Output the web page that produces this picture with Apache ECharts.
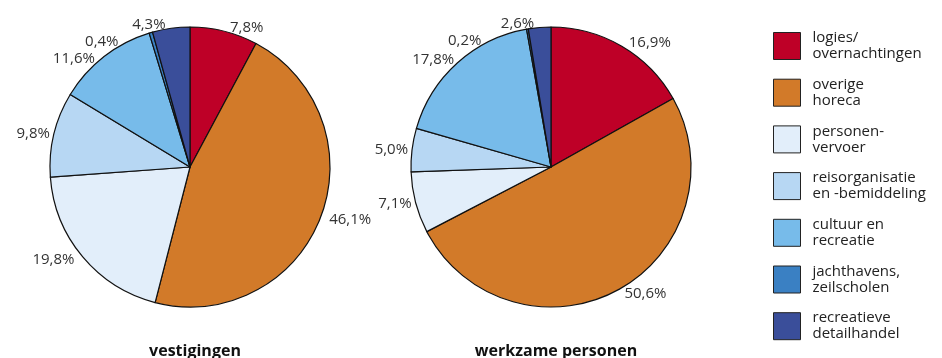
<!DOCTYPE html>
<html>
<head>
<meta charset="utf-8">
<script src="https://cdn.jsdelivr.net/npm/echarts@6/dist/echarts.min.js"></script>
<style>
  html, body { margin: 0; padding: 0; background: #fff; }
  #chart { width: 942px; height: 358px; }
</style>
</head>
<body>
<div id="chart"></div>
<script>
// Sector names (line break used in the legend)
const categories = [
  'logies/\novernachtingen',
  'overige\nhoreca',
  'personen-\nvervoer',
  'reisorganisatie\nen -bemiddeling',
  'cultuur en\nrecreatie',
  'jachthavens,\nzeilscholen',
  'recreatieve\ndetailhandel'
];
// Share per sector, in percent
const vestigingen = [7.8, 46.1, 19.8, 9.8, 11.6, 0.4, 4.3];
const werkzamePersonen = [16.9, 50.6, 7.1, 5.0, 17.8, 0.2, 2.6];
const pieTitles = ['vestigingen', 'werkzame personen'];

const colors = ['#be0027', '#d27a29', '#e2eefa', '#b7d7f3', '#77bbea', '#3a80c3', '#3a4e9a'];
const FONT = 'Open Sans';

const fmt = v => v.toFixed(1).replace('.', ',') + '%';

function pieSeries(values, center) {
  return {
    type: 'pie',
    center: center,
    radius: 140,
    startAngle: 90,
    clockwise: true,
    avoidLabelOverlap: true,
    data: categories.map((name, i) => ({ name: name, value: values[i] })),
    itemStyle: { borderColor: '#111', borderWidth: 1.2 },
    label: {
      show: true,
      position: 'outside',
      formatter: p => fmt(p.value),
      fontFamily: FONT,
      fontSize: 15,
      color: '#333'
    },
    labelLine: { show: false, length: 4, length2: 0 },
    labelLayout: { hideOverlap: false },
    emphasis: { disabled: true },
    animation: false
  };
}

const chart = echarts.init(document.getElementById('chart'), null, { renderer: 'canvas' });
chart.setOption({
  backgroundColor: '#fff',
  color: colors,
  title: [
    { text: pieTitles[0], left: 190, top: 338, textAlign: 'center',
      textStyle: { fontFamily: FONT, fontSize: 16, fontWeight: 'bold', color: '#111' } },
    { text: pieTitles[1], left: 551, top: 338, textAlign: 'center',
      textStyle: { fontFamily: FONT, fontSize: 16, fontWeight: 'bold', color: '#111' } }
  ],
  legend: {
    orient: 'vertical',
    left: 773,
    top: 30,
    padding: 0,
    itemWidth: 27,
    itemHeight: 27,
    itemGap: 14.7,
    icon: 'rect',
    selectedMode: false,
    itemStyle: { borderColor: '#222', borderWidth: 1 },
    textStyle: { fontFamily: FONT, fontSize: 15, lineHeight: 16, color: '#222', padding: [0, 0, 0, 7] },
    data: categories
  },
  series: [
    pieSeries(vestigingen, [190, 167]),
    pieSeries(werkzamePersonen, [551, 167])
  ]
});
</script>
</body>
</html>
